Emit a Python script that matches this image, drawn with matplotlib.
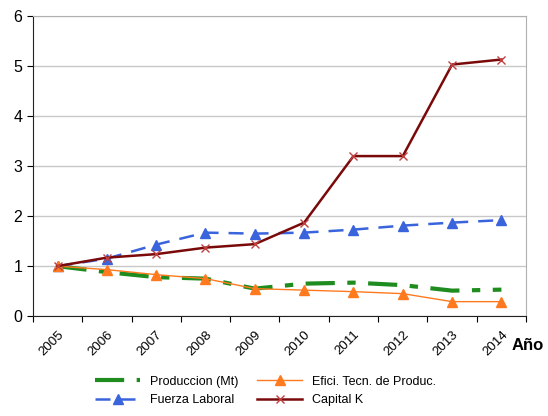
import matplotlib.pyplot as plt
import numpy as np

plt.rcParams['font.family'] = ['Liberation Sans', 'DejaVu Sans']

years = ['2005', '2006', '2007', '2008', '2009', '2010', '2011', '2012', '2013', '2014']
produccion = [1.0, 0.88, 0.78, 0.75, 0.55, 0.65, 0.67, 0.62, 0.51, 0.53]
eficiencia = [1.0, 0.93, 0.83, 0.75, 0.55, 0.52, 0.49, 0.45, 0.29, 0.29]
fuerza = [1.0, 1.15, 1.43, 1.67, 1.65, 1.67, 1.73, 1.81, 1.87, 1.92]
capital = [1.0, 1.17, 1.24, 1.37, 1.44, 1.87, 3.2, 3.2, 5.03, 5.13]

fig = plt.figure(figsize=(5.48, 4.16), dpi=100)
ax = fig.add_axes([0.060, 0.240, 0.900, 0.7215])

x = np.arange(len(years))
ax.plot(x, produccion, color='#1e8c1e', linewidth=3, dashes=(7, 3, 2, 3), label='Produccion (Mt)')
ax.plot(x, fuerza, color='#3a64dc', linewidth=1.8, dashes=(6, 4), marker='^', markersize=7, label='Fuerza Laboral')
ax.plot(x, eficiencia, color='#ff7a1f', linewidth=1, marker='^', markersize=7, label='Efici. Tecn. de Produc.')
ax.plot(x, capital, color='#7a0a0a', linewidth=1.8, marker='x', markersize=6,
        markeredgecolor='#c04040', label='Capital K')

ax.set_xlim(-0.5, len(years) - 0.5)
ax.set_ylim(0, 6)
ax.set_yticks(range(0, 7))
ax.set_xticks(np.arange(-0.5, len(years)), minor=False)
ax.set_xticklabels([])
ax.set_xticks(x, minor=True)
ax.set_xticklabels(years, minor=True, rotation=45, ha='right', va='top', rotation_mode='anchor', fontsize=9.5)
ax.tick_params(axis='x', which='minor', length=0, pad=9)
ax.tick_params(axis='x', which='major', length=4, direction='out')
ax.tick_params(axis='y', length=4, direction='out', labelsize=11.5)

ax.grid(True, axis='y', color='#c8c8c8', linewidth=1)
ax.set_axisbelow(True)
ax.spines['top'].set_color('#b0b0b0')
ax.spines['right'].set_color('#b0b0b0')
ax.spines['left'].set_color('#222222')
ax.spines['bottom'].set_color('#222222')

fig.text(0.933, 0.17, 'Año', fontsize=12, fontweight='bold', ha='left', va='center')

handles, labels = ax.get_legend_handles_labels()
fig.legend(handles, labels, ncol=2, loc='center',
           bbox_to_anchor=(0.485, 0.06), frameon=False, fontsize=9, handlelength=3.6,
           columnspacing=1.5, labelspacing=0.55)

fig.savefig('out.png', dpi=100)
